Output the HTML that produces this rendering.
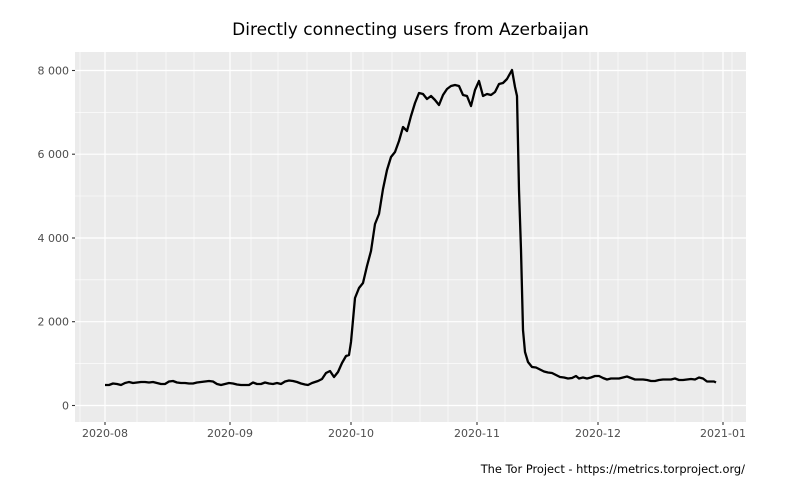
<!DOCTYPE html>
<html><head><meta charset="utf-8"><style>body{margin:0;background:#fff}svg{display:block}text{font-family:"DejaVu Sans","Liberation Sans",sans-serif}</style></head><body>
<svg width="794" height="487" viewBox="0 0 794 487" xmlns="http://www.w3.org/2000/svg">
<rect x="75" y="52" width="671" height="370" fill="#ebebeb"/>
<g stroke="#fff" stroke-width="0.6">
<line x1="75" x2="746" y1="363.6" y2="363.6"/><line x1="75" x2="746" y1="279.8" y2="279.8"/><line x1="75" x2="746" y1="196" y2="196"/><line x1="75" x2="746" y1="112.3" y2="112.3"/>
<line x1="80" x2="80" y1="52" y2="422"/><line x1="137" x2="137" y1="52" y2="422"/><line x1="166" x2="166" y1="52" y2="422"/><line x1="194" x2="194" y1="52" y2="422"/><line x1="251" x2="251" y1="52" y2="422"/><line x1="278" x2="278" y1="52" y2="422"/><line x1="307" x2="307" y1="52" y2="422"/><line x1="363" x2="363" y1="52" y2="422"/><line x1="392" x2="392" y1="52" y2="422"/><line x1="420" x2="420" y1="52" y2="422"/><line x1="448" x2="448" y1="52" y2="422"/><line x1="505" x2="505" y1="52" y2="422"/><line x1="533" x2="533" y1="52" y2="422"/><line x1="562" x2="562" y1="52" y2="422"/><line x1="590" x2="590" y1="52" y2="422"/><line x1="618" x2="618" y1="52" y2="422"/><line x1="647" x2="647" y1="52" y2="422"/><line x1="675" x2="675" y1="52" y2="422"/><line x1="703" x2="703" y1="52" y2="422"/><line x1="732" x2="732" y1="52" y2="422"/>
</g>
<g stroke="#fff" stroke-width="1.2">
<line x1="75" x2="746" y1="405.5" y2="405.5"/><line x1="75" x2="746" y1="321.7" y2="321.7"/><line x1="75" x2="746" y1="238" y2="238"/><line x1="75" x2="746" y1="154.2" y2="154.2"/><line x1="75" x2="746" y1="70.5" y2="70.5"/>
<line x1="105" x2="105" y1="52" y2="422"/><line x1="230" x2="230" y1="52" y2="422"/><line x1="351" x2="351" y1="52" y2="422"/><line x1="477" x2="477" y1="52" y2="422"/><line x1="598" x2="598" y1="52" y2="422"/><line x1="723" x2="723" y1="52" y2="422"/>
</g>
<g stroke="#333" stroke-width="1.1">
<line x1="72" x2="75" y1="405.5" y2="405.5"/><line x1="72" x2="75" y1="321.7" y2="321.7"/><line x1="72" x2="75" y1="238" y2="238"/><line x1="72" x2="75" y1="154.2" y2="154.2"/><line x1="72" x2="75" y1="70.5" y2="70.5"/>
<line x1="105" x2="105" y1="422" y2="425"/><line x1="230" x2="230" y1="422" y2="425"/><line x1="351" x2="351" y1="422" y2="425"/><line x1="477" x2="477" y1="422" y2="425"/><line x1="598" x2="598" y1="422" y2="425"/><line x1="723" x2="723" y1="422" y2="425"/>
</g>
<g fill="#4d4d4d" font-size="11" text-anchor="end">
<text x="69" y="409.5">0</text><text x="69" y="325.7">2 000</text><text x="69" y="242">4 000</text><text x="69" y="158.2">6 000</text><text x="69" y="74.5">8 000</text>
</g>
<g fill="#4d4d4d" font-size="11" text-anchor="middle">
<text x="105" y="437">2020-08</text><text x="230" y="437">2020-09</text><text x="351" y="437">2020-10</text><text x="477" y="437">2020-11</text><text x="598" y="437">2020-12</text><text x="723" y="437">2021-01</text>
</g>
<polyline fill="none" stroke="#000" stroke-width="2.3" stroke-linejoin="round" points="105,385 109,385 113,383.5 117,384 121,385 125,383 129,382 133,383 137,382.5 141,382 145,382 149,382.5 153,382 157,383 161,384 165,384 169,381.5 173,381 177,382.5 181,383 185,383 189,383.5 193,383.5 197,382.5 201,382 205,381.5 209,381 213,381.5 217,384 221,385 225,384 229,383 233,383.5 237,384.5 241,385 245,385 249,385 253,382.5 257,384 261,384 265,382.5 269,383.5 273,384 277,383 281,384 285,381.5 289,380.5 293,381 297,382 301,383.5 305,384.5 308,385 312,383 318,381 322,379 326,373 330,371 334,377 338,372 342,363 346,356 349,355 351,342 355,298 359,288 363,283 367,266 371,251 375,224 379,214 383,189 387,170 391,157 395,152 399,141 403,127 407,131 411,116 415,103 419,93 423,94 427,99 431,96 435,100 439,105 443,95 447,89 451,86 455,85 459,86 463,95 467,96 471,106 475,90 479,81 483,96 487,94 491,95 495,92 499,84 503,83 507,79 512,70 515,87 517,96 519,190 521,250 523,330 525,352 528,362 532,367 536,367.5 540,369.5 544,371.5 548,372.5 552,373 556,375 560,377 564,377.5 568,378.5 572,378 576,376 579,378.5 583,377.5 587,378.5 591,377.5 595,376 599,376 603,378 607,379.5 611,378.5 615,378.5 619,378.5 623,377.5 627,376.5 631,378 635,379.5 639,379.5 643,379.5 647,380 651,381 655,381 659,380 663,379.5 667,379.5 671,379.5 675,378.5 679,380 683,380 687,379.5 691,379 695,379.5 699,377.5 703,378.5 707,381.5 711,381.5 714,381.5 716,382.5"/>
<text x="410.5" y="35" font-size="17" text-anchor="middle" fill="#000">Directly connecting users from Azerbaijan</text>
<text x="745" y="473" font-size="11.4" text-anchor="end" fill="#000">The Tor Project - https://metrics.torproject.org/</text>
</svg>
</body></html>
